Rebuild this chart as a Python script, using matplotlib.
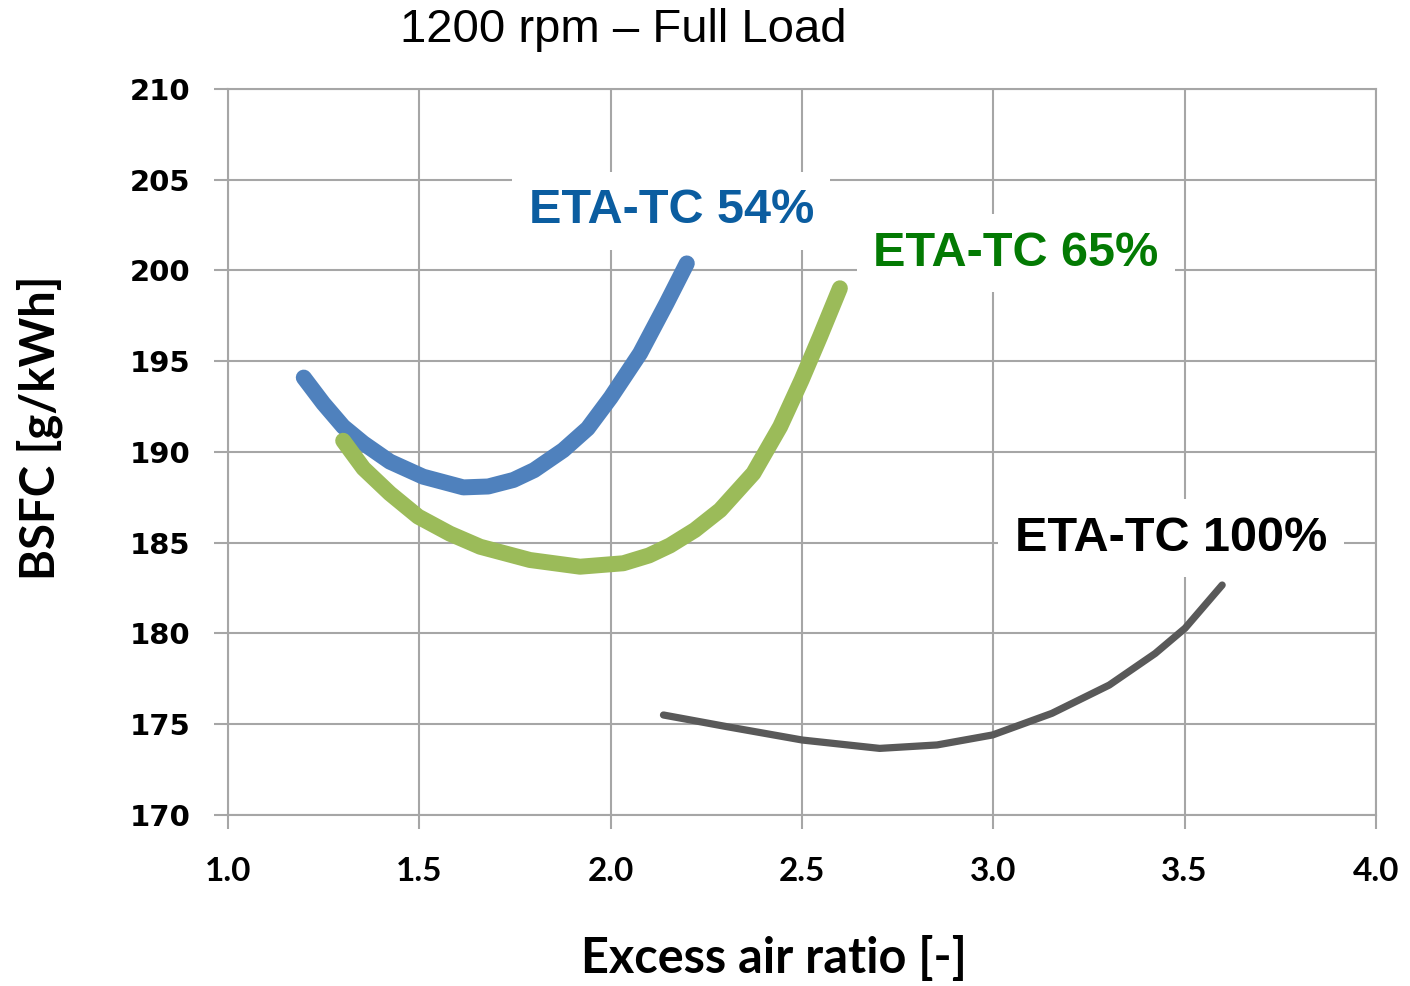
import matplotlib
matplotlib.use("Agg")
import matplotlib.pyplot as plt
from matplotlib.font_manager import FontProperties

# ---- data ----
eta54_x = [1.198, 1.249, 1.301, 1.354, 1.423, 1.510, 1.615, 1.680, 1.746, 1.800, 1.876,
           1.940, 2.000, 2.077, 2.146, 2.199]
eta54_y = [194.1, 192.68, 191.4, 190.48, 189.47, 188.64, 188.05, 188.1, 188.46, 189.0, 190.1,
           191.3, 193.0, 195.44, 198.19, 200.39]

eta65_x = [1.301, 1.354, 1.423, 1.497, 1.580, 1.659, 1.789, 1.920, 2.033, 2.100, 2.155,
           2.220, 2.286, 2.373, 2.443, 2.499, 2.547, 2.599]
eta65_y = [190.62, 189.1, 187.72, 186.44, 185.5, 184.78, 184.05, 183.68, 183.87, 184.3, 184.85,
           185.7, 186.8, 188.83, 191.4, 193.97, 196.35, 199.02]

eta100_x = [2.138, 2.303, 2.501, 2.703, 2.853, 2.998, 3.153, 3.303, 3.423, 3.501, 3.598]
eta100_y = [175.51, 174.87, 174.13, 173.67, 173.86, 174.41, 175.6, 177.16, 178.9, 180.29, 182.67]

x_ticks = [1.0, 1.5, 2.0, 2.5, 3.0, 3.5, 4.0]
y_ticks = [170, 175, 180, 185, 190, 195, 200, 205, 210]

labels = ["ETA-TC 54%", "ETA-TC 65%", "ETA-TC 100%"]
label_pos = [(2.158, 203.28), (3.059, 200.96), (3.464, 185.26)]

title = "1200 rpm \u2013 Full Load"
xlabel = "Excess air ratio [-]"
ylabel = "BSFC [g/kWh]"

# ---- figure ----
fig = plt.figure(figsize=(14.1, 9.86), dpi=100)
ax = fig.add_axes([228/1410, 1-815/986, (1376-228)/1410, (815-89)/986])

grid_c = "#A6A6A6"
ax.set_xlim(1.0, 4.0)
ax.set_ylim(170, 210)
ax.set_xticks(x_ticks)
ax.set_yticks(y_ticks)
ax.set_xticklabels([f"{v:.1f}" for v in x_ticks])
ax.set_yticklabels([str(v) for v in y_ticks])
ax.grid(True, color=grid_c, linewidth=1.5)
ax.set_axisbelow(True)
for s in ax.spines.values():
    s.set_color(grid_c)
    s.set_linewidth(1.5)
ax.tick_params(axis="both", direction="out", length=10, width=1.5, color=grid_c)
ax.tick_params(axis="y", pad=17)
ax.tick_params(axis="x", pad=20)

yfont = FontProperties(family=["DejaVu Sans"], weight="bold", size=21)
xfont = FontProperties(family=["Lato", "DejaVu Sans"], weight="bold", size=24)
for t in ax.get_yticklabels():
    t.set_fontproperties(yfont)
for t in ax.get_xticklabels():
    t.set_fontproperties(xfont)

ax.plot(eta54_x, eta54_y, color="#4F81BD", linewidth=11.5, solid_capstyle="round", solid_joinstyle="round")
ax.plot(eta65_x, eta65_y, color="#9BBB59", linewidth=11.5, solid_capstyle="round", solid_joinstyle="round")
ax.plot(eta100_x, eta100_y, color="#595959", linewidth=5.2, solid_capstyle="round", solid_joinstyle="round")

label_colors = ["#0B5DA0", "#037A03", "#000000"]
for txt, (lx, ly), c in zip(labels, label_pos, label_colors):
    ax.text(lx, ly, txt, color=c, ha="center", va="center", fontsize=35,
            family=["Liberation Sans", "DejaVu Sans"], weight="bold",
            bbox=dict(facecolor="white", edgecolor="none", pad=12), zorder=5)

ax.set_xlabel(xlabel, family=["Lato", "DejaVu Sans"], weight="bold", fontsize=35, va="center")
ax.set_ylabel(ylabel, family=["Lato", "DejaVu Sans"], weight="bold", fontsize=34, va="center")
ax.xaxis.set_label_coords((774-228)/1148, -(958-815)/726)
ax.yaxis.set_label_coords((40-228)/1148, 1-(428-89)/726)

fig.text(623/1410, 1-30/986, title, ha="center", va="center", fontsize=34,
         family=["Liberation Sans", "DejaVu Sans"])

fig.savefig("out.png", dpi=100, facecolor="white")
